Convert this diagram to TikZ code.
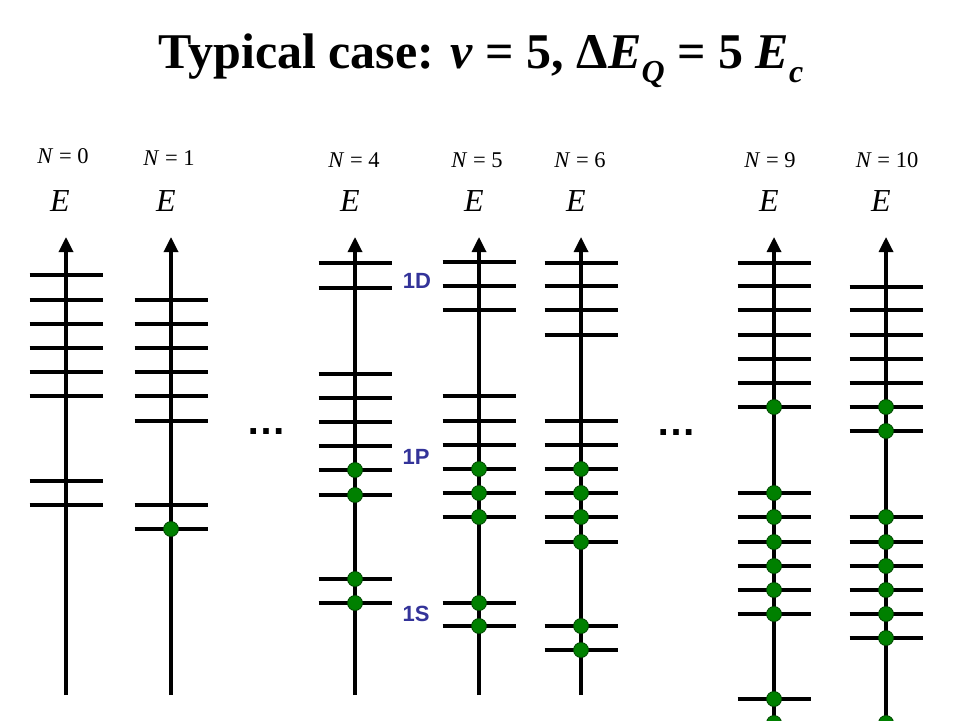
\documentclass[tikz,border=0pt]{standalone}
\usepackage{fontspec}
\setmainfont{Liberation Serif}
\newfontfamily\arialf{Liberation Sans}
\usetikzlibrary{arrows.meta}
\definecolor{dotgreen}{RGB}{0,128,0}
\definecolor{dotedge}{RGB}{0,70,0}
\definecolor{shellblue}{RGB}{51,51,153}
\tikzset{
  axisline/.style={line width=3.3pt,-{Triangle[width=14pt,length=15pt]}},
  levelline/.style={line width=3.3pt},
  electron/.style={circle,fill=dotgreen,draw=dotedge,line width=0.8pt,minimum size=15pt,inner sep=0pt},
  nlabel/.style={font=\fontsize{22.5}{22.5}\selectfont,anchor=base,inner sep=0pt},
  elabel/.style={font=\fontsize{32}{32}\selectfont\itshape,anchor=base,inner sep=0pt},
  shell/.style={font=\arialf\bfseries\fontsize{22}{22}\selectfont,text=shellblue,inner sep=0pt},
  dotsl/.style={font=\arialf\bfseries\fontsize{40}{40}\selectfont,anchor=base,inner sep=0pt},
  titlef/.style={font=\fontsize{50}{50}\selectfont\bfseries,anchor=base,inner sep=0pt},
}
\newcommand{\lowsub}[1]{\raisebox{-14pt}{\fontsize{32}{32}\selectfont\textit{#1}}}
\newcommand{\energyaxis}[3]{% name, x, bottom y
  \coordinate (#1b) at (#2,#3);
  \coordinate (#1t) at (#2,237);
  \draw[axisline] (#1b) -- (#1t);}
\newcommand{\levels}[2]{\foreach \yy in {#2} {\draw[levelline] (#1-36.5,\yy) -- (#1+36.5,\yy);}}
\newcommand{\electrons}[3]{\foreach \yy [count=\k] in {#3} {\draw[levelline] (#2-36.5,\yy) -- (#2+36.5,\yy); \node[electron] (#1e\k) at (#2,\yy) {};}}
\begin{document}
\begin{tikzpicture}[x=1pt,y=-1pt]
\useasboundingbox (0,0) rectangle (960,720);
\clip (0,0) rectangle (960,720);
\node[titlef] (title) at (481,68) {Typical case: \textit{v} = 5, Δ\textit{E}\lowsub{Q} = 5 \textit{E}\lowsub{c}};
% labels
\node[nlabel] (n0) at (63,163) {\textit{N} = 0};
\node[nlabel] (n1) at (169,165) {\textit{N} = 1};
\node[nlabel] (n4) at (354,167) {\textit{N} = 4};
\node[nlabel] (n5) at (477,167) {\textit{N} = 5};
\node[nlabel] (n6) at (580,167) {\textit{N} = 6};
\node[nlabel] (n9) at (770,167) {\textit{N} = 9};
\node[nlabel] (n10) at (887,167) {\textit{N} = 10};
\node[elabel] (e0) at (60,211) {E};
\node[elabel] (e1) at (166,211) {E};
\node[elabel] (e4) at (350,211) {E};
\node[elabel] (e5) at (474,211) {E};
\node[elabel] (e6) at (576,211) {E};
\node[elabel] (e9) at (769,211) {E};
\node[elabel] (e10) at (881,211) {E};
% axes
\energyaxis{a0}{66}{695}
\energyaxis{a1}{171}{695}
\energyaxis{a4}{355}{695}
\energyaxis{a5}{479}{695}
\energyaxis{a6}{581}{695}
\energyaxis{a9}{774}{740}
\energyaxis{a10}{886}{740}
% empty levels
\levels{66}{275,300,324,348,372,396,481,505}
\levels{171}{300,324,348,372,396,421,505}
\levels{355}{263,288,374,398,422,446}
\levels{479}{262,286,310,396,421,445}
\levels{581}{263,286,310,335,421,445}
\levels{774}{263,286,310,335,359,383}
\levels{886}{287,310,335,359,383}
% occupied levels
\electrons{c1}{171}{529}
\electrons{c4}{355}{470,495,579,603}
\electrons{c5}{479}{469,493,517,603,626}
\electrons{c6}{581}{469,493,517,542,626,650}
\electrons{c9}{774}{407,493,517,542,566,590,614,699,723}
\electrons{c10}{886}{407,431,517,542,566,590,614,638,723}
% shell labels
\node[shell] (s1d) at (417,281) {1D};
\node[shell] (s1p) at (416,457) {1P};
\node[shell] (s1s) at (416,614) {1S};
% ellipses
\node[dotsl] (dots1) at (266.5,434) {…};
\node[dotsl] (dots2) at (676.5,435) {…};
\end{tikzpicture}
\end{document}
